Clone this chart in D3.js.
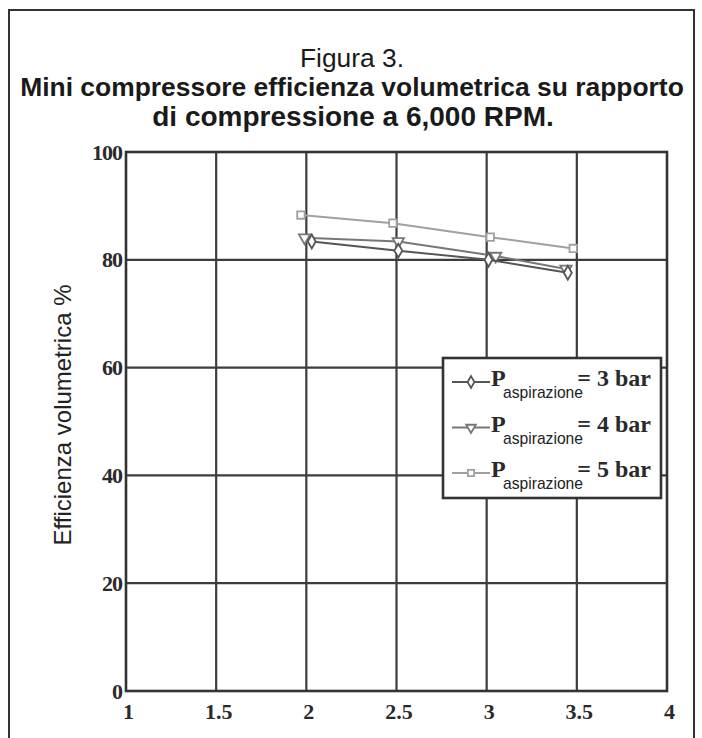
<!DOCTYPE html>
<html lang="it">
<head>
    <meta charset="UTF-8">
    <title>Figura 3</title>
    <script src="https://cdn.jsdelivr.net/npm/d3@7"></script>
    <style>
        body { margin: 0; background: #fff; }
        svg { display: block; }
        .tick-label { font-family: "Liberation Serif", "Times New Roman", serif; font-weight: bold; fill: #2a2a2a; }
        .title { font-family: "Liberation Sans", Arial, sans-serif; fill: #1a1a1a; }
    </style>
</head>
<body>
<svg id="chart" width="702" height="738"></svg>
<script>
    // dati
    var xTicks = [1, 1.5, 2, 2.5, 3, 3.5, 4];
    var xTickLabels = ["1", "1.5", "2", "2.5", "3", "3.5", "4"];
    var yTicks = [0, 20, 40, 60, 80, 100];
    var yTickLabels = ["0", "20", "40", "60", "80", "100"];

    var seriesNames = ["3 bar", "4 bar", "5 bar"];
    var rapporto3 = [2.03, 2.51, 3.01, 3.45];
    var eff3 = [83.4, 81.7, 80.0, 77.6];
    var rapporto4 = [1.99, 2.51, 3.05, 3.44];
    var eff4 = [84.1, 83.4, 80.7, 78.3];
    var rapporto5 = [1.97, 2.48, 3.02, 3.48];
    var eff5 = [88.3, 86.8, 84.2, 82.1];

    var svg = d3.select("#chart");

    var x = d3.scaleLinear().domain([1, 4]).range([126, 667]);
    var y = d3.scaleLinear().domain([0, 100]).range([691, 152]);

    // cornice esterna
    svg.append("rect")
        .attr("x", 9).attr("y", 10)
        .attr("width", 685).attr("height", 760)
        .attr("fill", "none").attr("stroke", "#333").attr("stroke-width", 2);

    // titolo: dimensione del font calcolata sulla larghezza
    function titleLine(txt, cx, by, w, bold) {
        var t = svg.append("text").attr("class", "title")
            .attr("text-anchor", "middle")
            .attr("x", cx).attr("y", by)
            .style("font-size", "28px")
            .style("font-weight", bold ? "bold" : "normal")
            .text(txt);
        var nat = t.node().getComputedTextLength();
        t.style("font-size", Math.min(28, 28 * w / nat) + "px");
    }
    titleLine("Figura 3.", 352, 67, 104, false);
    titleLine("Mini compressore efficienza volumetrica su rapporto", 352, 96, 664, true);
    titleLine("di compressione a 6,000 RPM.", 353, 126, 428, true);

    // griglia
    var grid = svg.append("g").attr("stroke", "#3c3c3c").attr("stroke-width", 2.2);
    grid.selectAll("line.v").data(xTicks.slice(1, -1)).enter().append("line")
        .attr("x1", function (d) { return x(d); }).attr("x2", function (d) { return x(d); })
        .attr("y1", y(100)).attr("y2", y(0));
    grid.selectAll("line.h").data(yTicks.slice(1, -1)).enter().append("line")
        .attr("y1", function (d) { return y(d); }).attr("y2", function (d) { return y(d); })
        .attr("x1", x(1)).attr("x2", x(4));
    svg.append("rect")
        .attr("x", x(1)).attr("y", y(100))
        .attr("width", x(4) - x(1)).attr("height", y(0) - y(100))
        .attr("fill", "none").attr("stroke", "#333").attr("stroke-width", 2.6);

    // etichette assi
    var xAxis = d3.axisBottom(x).tickValues(xTicks)
        .tickFormat(function (d, i) { return xTickLabels[i]; }).tickSize(0).tickPadding(12);
    var gx = svg.append("g").attr("transform", "translate(2," + y(0) + ")").call(xAxis);
    gx.select(".domain").remove();
    gx.selectAll("text").attr("class", "tick-label").style("font-size", "22px");

    var yAxis = d3.axisLeft(y).tickValues(yTicks)
        .tickFormat(function (d, i) { return yTickLabels[i]; }).tickSize(0).tickPadding(4);
    var gy = svg.append("g").attr("transform", "translate(" + x(1) + ",0)").call(yAxis);
    gy.select(".domain").remove();
    gy.selectAll("text").attr("class", "tick-label").style("font-size", "22px").style("letter-spacing", "-1px");

    svg.append("text")
        .attr("transform", "translate(71," + 415 + ") rotate(-90)")
        .attr("text-anchor", "middle")
        .style("font-family", "'Liberation Sans', Arial, sans-serif")
        .style("font-size", "24px").attr("fill", "#222")
        .text("Efficienza volumetrica %");

    // serie
    var series = [
        {name: seriesNames[0], xs: rapporto3, ys: eff3, color: "#555", symbol: d3.symbolDiamond, rot: 0},
        {name: seriesNames[1], xs: rapporto4, ys: eff4, color: "#777", symbol: d3.symbolTriangle, rot: 180},
        {name: seriesNames[2], xs: rapporto5, ys: eff5, color: "#a0a0a0", symbol: d3.symbolSquare, rot: 0}
    ];

    var line = d3.line().x(function (d) { return x(d[0]); }).y(function (d) { return y(d[1]); });

    series.slice().reverse().forEach(function (s) {
        var pts = s.xs.map(function (v, i) { return [v, s.ys[i]]; });
        svg.append("path").datum(pts)
            .attr("d", line)
            .attr("fill", "none").attr("stroke", s.color).attr("stroke-width", 2);
        svg.selectAll(null).data(pts).enter().append("path")
            .attr("d", d3.symbol().type(s.symbol).size(55))
            .attr("transform", function (d) { return "translate(" + x(d[0]) + "," + y(d[1]) + ") rotate(" + s.rot + ")"; })
            .attr("fill", "#fff").attr("stroke", s.color).attr("stroke-width", 1.8);
    });

    // legenda
    var leg = svg.append("g");
    leg.append("rect")
        .attr("x", 443).attr("y", 358).attr("width", 218).attr("height", 140)
        .attr("fill", "#fff").attr("stroke", "#333").attr("stroke-width", 2.6);
    series.forEach(function (s, i) {
        var cy = 382 + i * 45.5;
        leg.append("line").attr("x1", 452).attr("x2", 490).attr("y1", cy).attr("y2", cy)
            .attr("stroke", s.color).attr("stroke-width", 2);
        leg.append("path")
            .attr("d", d3.symbol().type(s.symbol).size(40))
            .attr("transform", "translate(471," + cy + ") rotate(" + s.rot + ")")
            .attr("fill", "#fff").attr("stroke", s.color).attr("stroke-width", 1.8);
        leg.append("text").attr("x", 491).attr("y", cy + 4)
            .attr("class", "tick-label").style("font-size", "24px")
            .text("P");
        leg.append("text").attr("x", 503).attr("y", cy + 16)
            .style("font-family", "'Liberation Sans', Arial, sans-serif")
            .style("font-size", "17px").attr("fill", "#222")
            .attr("textLength", 80).attr("lengthAdjust", "spacingAndGlyphs")
            .text("aspirazione");
        leg.append("text").attr("x", 651).attr("y", cy + 4)
            .attr("class", "tick-label").style("font-size", "24px")
            .attr("text-anchor", "end")
            .text("= " + s.name);
    });
</script>
</body>
</html>
